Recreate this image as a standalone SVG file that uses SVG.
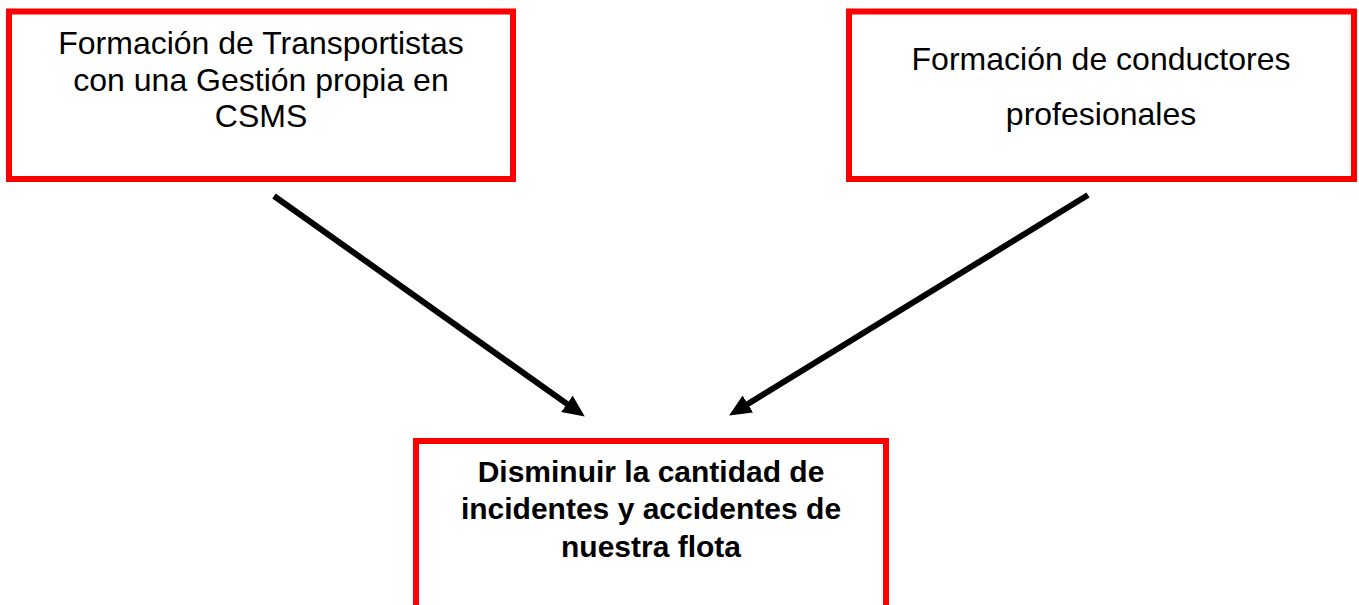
<svg xmlns="http://www.w3.org/2000/svg" width="1359" height="605" viewBox="0 0 1359 605">
<style>
.box{fill:#fff;stroke:#ff0000;stroke-width:6}
.t{font-family:"Liberation Sans",Arial,sans-serif;font-size:32px;fill:#000;text-anchor:middle}
.b{font-family:"Liberation Sans",Arial,sans-serif;font-size:30px;font-weight:bold;fill:#000;text-anchor:middle}
.c{stroke:#000;stroke-width:6;fill:none;marker-end:url(#ah)}
</style>
<defs>
<marker id="ah" viewBox="0 0 22 20" refX="1" refY="10" markerWidth="22" markerHeight="20" markerUnits="userSpaceOnUse" orient="auto">
<path d="M0,0 L22,10 L0,20 z" fill="#000"/>
</marker>
</defs>
<rect width="1359" height="605" fill="#fff"/>
<g id="node-1">
<rect class="box" x="9" y="11.5" width="504" height="167.5"/>
<text class="t" x="261" y="54">Formación de Transportistas</text>
<text class="t" x="261" y="90.5">con una Gestión propia en</text>
<text class="t" x="261" y="126.5">CSMS</text>
</g>
<g id="node-2">
<rect class="box" x="849" y="11.5" width="505" height="167.5"/>
<text class="t" x="1101" y="70">Formación de conductores</text>
<text class="t" x="1101" y="125">profesionales</text>
</g>
<g id="node-3">
<rect class="box" x="416" y="441" width="470" height="200"/>
<text class="b" x="651" y="481.5">Disminuir la cantidad de</text>
<text class="b" x="651" y="518.5">incidentes y accidentes de</text>
<text class="b" x="651" y="556.5">nuestra flota</text>
</g>
<g id="connectors">
<line class="c" x1="274" y1="196" x2="567.7" y2="404.4"/>
<line class="c" x1="1088" y1="195" x2="747" y2="404.5"/>
</g>
</svg>
